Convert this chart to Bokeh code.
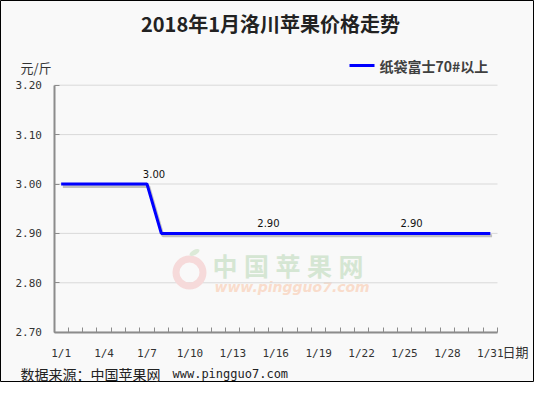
from bokeh.plotting import figure
from bokeh.models import ColumnDataSource, FixedTicker, Label, LabelSet, Arrow, Range1d
from bokeh.core.properties import value
from bokeh.embed import file_html
from bokeh.resources import INLINE

# ---- data ----
days = [1, 2, 3, 4, 5, 6, 7, 8, 9, 10, 11, 12, 13, 14, 15, 16,
        17, 18, 19, 20, 21, 22, 23, 24, 25, 26, 27, 28, 29, 30, 31]
prices = [3.00, 3.00, 3.00, 3.00, 3.00, 3.00, 3.00,
          2.90, 2.90, 2.90, 2.90, 2.90, 2.90, 2.90, 2.90, 2.90, 2.90, 2.90,
          2.90, 2.90, 2.90, 2.90, 2.90, 2.90, 2.90, 2.90, 2.90, 2.90, 2.90,
          2.90, 2.90]
tick_days = [1, 4, 7, 10, 13, 16, 19, 22, 25, 28, 31]
tick_labels = ["1/1", "1/4", "1/7", "1/10", "1/13", "1/16", "1/19",
               "1/22", "1/25", "1/28", "1/31"]
y_ticks = [2.70, 2.80, 2.90, 3.00, 3.10, 3.20]
y_tick_labels = ["2.70", "2.80", "2.90", "3.00", "3.10", "3.20"]
label_days = [7, 15, 25]
label_vals = [3.00, 2.90, 2.90]
label_texts = ["3.00", "2.90", "2.90"]
series_name = "纸袋富士70#以上"
title_text = "2018年1月洛川苹果价格走势"

# ---- layout geometry ----
W, H = 534, 382
OFF = 8                    # reference px -> figure px shift
XA0, XA1 = 0.5, 31.5       # axis extent (days)
YA0, YA1 = 2.70, 3.20      # axis extent (price)
PX_L, PX_R = 61.5, 505.0   # axis extent in reference px
PY_T, PY_B = 92.7, 339.7
kx = (PX_R - PX_L) / (XA1 - XA0)
ky = (PY_B - PY_T) / (YA1 - YA0)


def X(px):
    return XA0 + (px - PX_L) / kx


def Y(py):
    return YA1 - (py - PY_T) / ky


BG = "#f9f9f9"
p = figure(width=W, height=H,
           x_range=Range1d(X(OFF), X(OFF + W)),
           y_range=Range1d(Y(OFF + H), Y(OFF)),
           output_backend="svg", toolbar_location=None, min_border=0,
           background_fill_color=BG, border_fill_color=BG,
           outline_line_color="black")
p.xgrid.visible = False
p.ygrid.visible = False

# axes
p.xaxis.fixed_location = YA0
p.xaxis.bounds = (XA0, XA1)
p.xaxis.ticker = FixedTicker(ticks=tick_days,
                             minor_ticks=[d + 0.5 for d in range(0, 32)])
p.xaxis.major_label_overrides = dict(zip(tick_days, tick_labels))
p.xaxis.major_tick_line_color = None
p.xaxis.minor_tick_in = 5
p.xaxis.minor_tick_out = 0
p.xaxis.minor_tick_line_color = "#8c8c8c"
p.xaxis.axis_line_color = "#8c8c8c"
p.xaxis.axis_line_width = 2
p.xaxis.major_label_text_font = "DejaVu Sans Mono"
p.xaxis.major_label_text_font_size = "11px"
p.xaxis.major_label_text_color = "#333333"
p.xaxis.major_label_standoff = 9

p.yaxis.fixed_location = XA0
p.yaxis.bounds = (YA0, YA1)
p.yaxis.ticker = FixedTicker(ticks=y_ticks)
p.yaxis.major_label_overrides = dict(zip(y_ticks, y_tick_labels))
p.yaxis.major_tick_in = 5
p.yaxis.major_tick_out = 0
p.yaxis.major_tick_line_color = "#8c8c8c"
p.yaxis.minor_tick_line_color = None
p.yaxis.axis_line_color = "#8c8c8c"
p.yaxis.axis_line_width = 2
p.yaxis.major_label_text_font = "DejaVu Sans Mono"
p.yaxis.major_label_text_font_size = "11px"
p.yaxis.major_label_text_color = "#333333"
p.yaxis.major_label_standoff = 12

# horizontal grid lines, limited to the plot area
p.segment(x0=[XA0] * len(y_ticks), x1=[XA1] * len(y_ticks),
          y0=y_ticks, y1=y_ticks, line_color="#d9d9d9", line_width=1)

# watermark (behind data)
p.annulus(x=[X(197)], y=[Y(280)], inner_radius=10, outer_radius=17,
          inner_radius_units="screen", outer_radius_units="screen",
          fill_color="#f6dada", line_color=None)
p.ellipse(x=[X(202)], y=[Y(260)], width=11, height=5, angle=0.5,
          width_units="screen", height_units="screen",
          fill_color="#dcead8", line_color=None)
for i, ch in enumerate("中国苹果网"):
    p.add_layout(Label(x=X(220 + i * 31.5), y=Y(272), text=ch,
                       text_font="Noto Sans CJK SC", text_font_style="bold",
                       text_font_size="25px", text_color="#d5e6d3",
                       text_baseline="middle", text_align="left",
                       level="underlay"))
p.add_layout(Label(x=X(222), y=Y(294), text="www.pingguo7.com",
                   text_font="DejaVu Sans", text_font_style="bold italic",
                   text_font_size="14px", text_color="#f9dccb",
                   text_baseline="middle", text_align="left",
                   level="underlay"))

# data line with shadow
p.line([d + 0.12 for d in days], [v - 0.005 for v in prices],
       line_color="#9a9a9a", line_alpha=0.6, line_width=3)
p.line(days, prices, line_color="#0000ff", line_width=3)

src = ColumnDataSource(dict(x=label_days, y=label_vals, t=label_texts))
p.add_layout(LabelSet(x="x", y="y", text="t", source=src, x_offset=7,
                      y_offset=10, text_align="center",
                      text_baseline="middle", text_font=value("DejaVu Sans"),
                      text_font_size="10px", text_color="#111111"))

# texts around the plot area
p.add_layout(Label(x=X(278), y=Y(31), text=title_text,
                   text_font="Noto Sans CJK SC", text_font_style="bold",
                   text_font_size="20px", text_color="#222222",
                   text_align="center", text_baseline="middle"))
p.add_layout(Label(x=X(28), y=Y(75), text="元/斤",
                   text_font="Noto Sans CJK SC", text_font_size="13px",
                   text_color="#333333", text_align="left",
                   text_baseline="middle"))
p.add_layout(Arrow(end=None, x_start=X(357), y_start=Y(73), x_end=X(382),
                   y_end=Y(73), line_color="#0000ff", line_width=3))
p.add_layout(Label(x=X(387), y=Y(73), text=series_name,
                   text_font="Noto Sans CJK SC", text_font_style="bold",
                   text_font_size="14px", text_color="#404040",
                   text_align="left", text_baseline="middle"))
p.add_layout(Label(x=X(510), y=Y(359), text="日期",
                   text_font="Noto Sans CJK SC", text_font_size="13px",
                   text_color="#333333", text_align="left",
                   text_baseline="middle"))
p.add_layout(Label(x=X(28), y=Y(381), text="数据来源：中国苹果网",
                   text_font="Noto Sans CJK SC", text_font_size="14px",
                   text_color="#222222", text_align="left",
                   text_baseline="middle"))
p.add_layout(Label(x=X(180), y=Y(381), text="www.pingguo7.com",
                   text_font="DejaVu Sans Mono", text_font_size="12px",
                   text_color="#222222", text_align="left",
                   text_baseline="middle"))

open("out.html", "w").write(file_html(p, INLINE))
